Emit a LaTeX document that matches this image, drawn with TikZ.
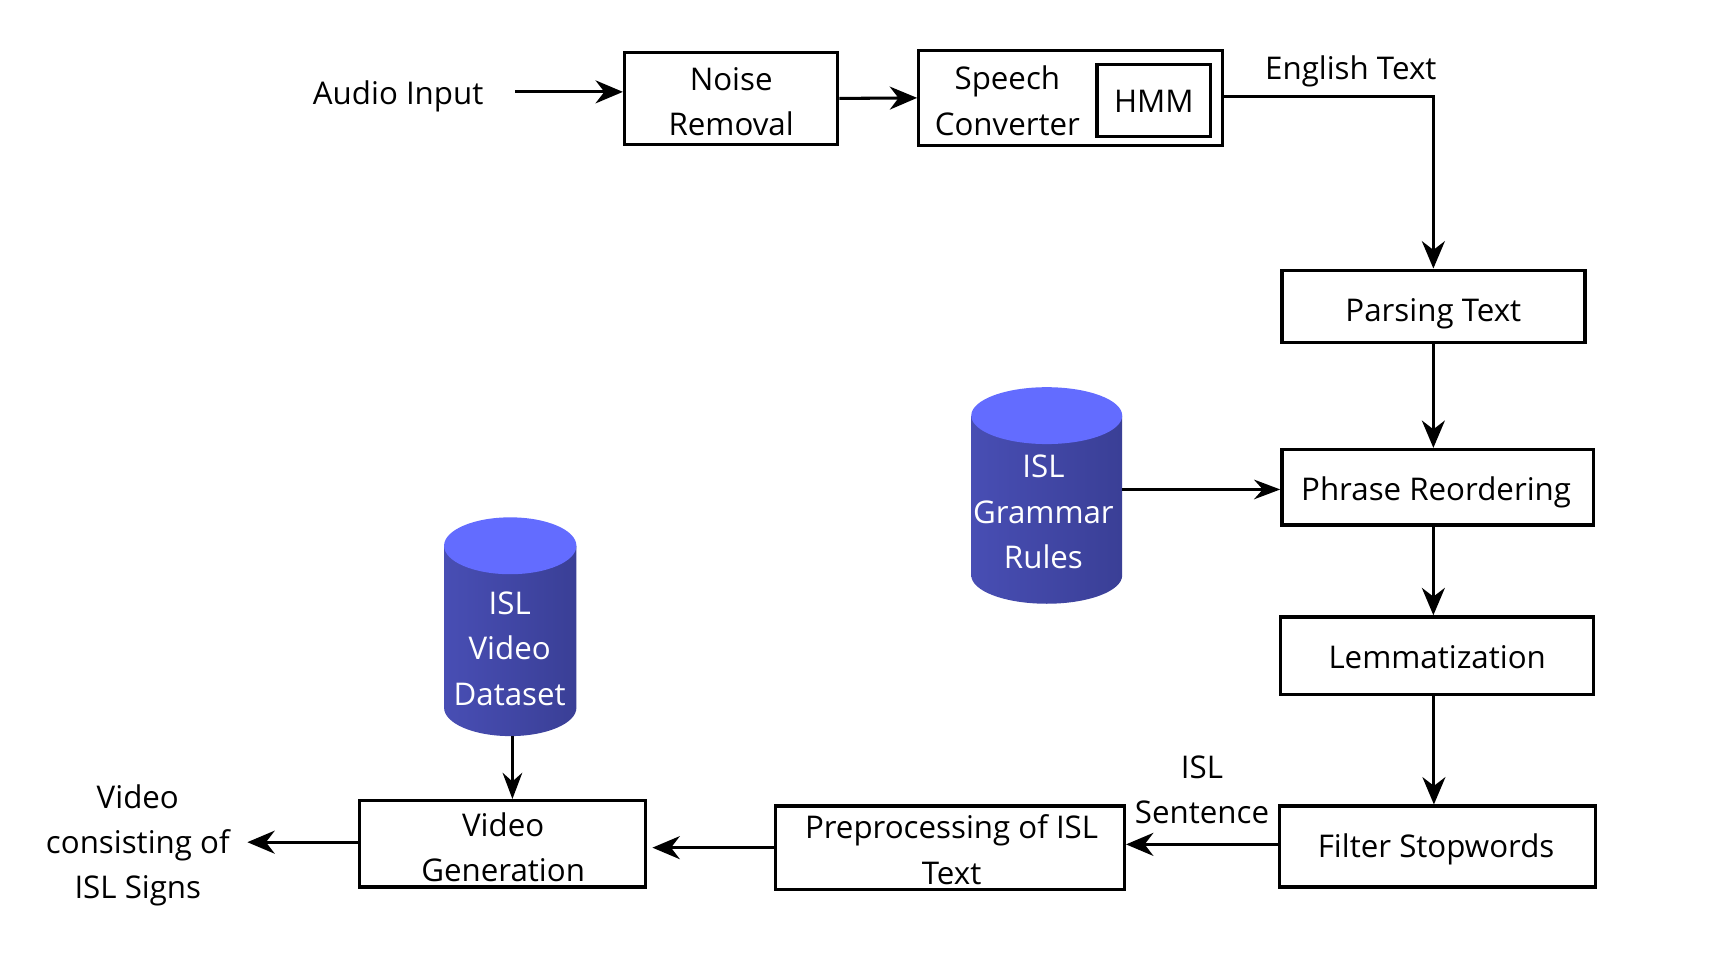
\documentclass[tikz,border=0pt]{standalone}
\usepackage{fontspec}
\setmainfont{Open Sans}
\usetikzlibrary{arrows.meta,calc}
\definecolor{cyltop}{RGB}{99,108,255}
\definecolor{cylleft}{RGB}{72,78,180}
\definecolor{cylright}{RGB}{58,63,150}
\tikzset{
  txt/.style={font=\fontsize{28.6}{41.5}\selectfont, align=center, inner sep=0pt},
  wtxt/.style={txt, text=white},
  procbox/.style={draw, line width=3pt},
  arr/.style={line width=2.8pt, -{Stealth[length=25pt,width=21pt,inset=8pt]}},
  thinarr/.style={line width=2.2pt, -{Stealth[length=24pt,width=18pt,inset=8pt]}},
}
\newcommand{\mycyl}[6]{% xl, xr, ytop, ybot, ry, name
  \shade[left color=cylleft, right color=cylright]
    (#1,#3) -- (#1,#4-#5) arc[start angle=180, end angle=0, x radius={(#2-#1)/2}, y radius=#5] -- (#2,#3) -- cycle;
  \fill[cyltop] ({(#1+#2)/2},#3) ellipse[x radius={(#2-#1)/2}, y radius=#5];
  \node[minimum width={(#2-#1)*1pt}, minimum height={(#4-#3+#5)*1pt}, inner sep=0pt] (#6) at ({(#1+#2)/2},{(#3-#5+#4)/2}) {};
}
\begin{document}
\begin{tikzpicture}[x=1pt,y=-1pt]
\useasboundingbox (0,0) rectangle (1568,874);
\fill[white] (0,0) rectangle (1568,874);

% top row
\node[txt] (audio) at (364,88) {Audio Input};
\coordinate (ain) at (471,84);
\node[procbox, minimum width=195pt, minimum height=84pt] (noise) at (668.5,90) {};
\node[txt] (noiset) at (668.5,93) {Noise\\Removal};
\node[procbox, minimum width=278pt, minimum height=87pt] (speech) at (979,89.5) {};
\node[txt] (speecht) at (921,92) {Speech\\Converter};
\node[procbox, minimum width=104pt, minimum height=66pt] (hmm) at (1055,92) {};
\node[txt] (hmmt) at (1055,93) {HMM};
\node[txt] (engl) at (1235,65) {English Text};

% right column
\node[procbox, minimum width=277pt, minimum height=66pt] (parsing) at (1310.5,280) {};
\node[txt] (parsingt) at (1310.5,287) {Parsing Text};
\node[procbox, minimum width=285pt, minimum height=69pt] (phrase) at (1314.5,445.5) {};
\node[txt] (phraset) at (1313,450) {Phrase Reordering};
\node[procbox, minimum width=286pt, minimum height=71pt] (lemma) at (1314,599.5) {};
\node[txt] (lemmat) at (1314,601) {Lemmatization};
\node[procbox, minimum width=289pt, minimum height=74pt] (filter) at (1314.5,774) {};
\node[txt] (filtert) at (1313,777) {Filter Stopwords};

% bottom row
\node[procbox, minimum width=319pt, minimum height=76pt] (prep) at (868.5,775) {};
\node[txt] (prept) at (870,777) {Preprocessing of ISL\\Text};
\node[procbox, minimum width=261pt, minimum height=79pt] (vgen) at (459.5,771.5) {};
\node[txt] (vgent) at (460,774.5) {Video\\Generation};
\node[txt] (islsent) at (1099,722) {ISL\\Sentence};
\node[txt] (output) at (126,773) {Video\\consisting of\\ISL Signs};

% cylinders
\mycyl{888}{1026}{380}{552}{26}{grammar}
\node[wtxt] (grammart) at (954,468) {ISL\\Grammar\\Rules};
\mycyl{406}{527}{499}{673}{26}{dataset}
\node[wtxt] (datasett) at (466,593) {ISL\\Video\\Dataset};

% connectors
\draw[arr] (ain) -- (ain -| noise.west);
\draw[arr] (noise.east) -- (speech.west);
\draw[arr] ([yshift=1.5pt]speech.east) -| (parsing.north);
\draw[arr] (parsing.south) -- (parsing.south |- phrase.north);
\draw[arr] ([xshift=-4pt]phrase.south) -- ([xshift=-4pt]phrase.south |- lemma.north);
\draw[arr] ([xshift=-3pt]lemma.south) -- ([xshift=-3pt]lemma.south |- filter.north);
\draw[arr] ([yshift=2pt]filter.west) -- ([yshift=2pt]filter.west -| prep.east);
\draw[arr, shorten >=5pt] (prep.west) -- (prep.west -| vgen.east);
\draw[arr, shorten >=16pt] ([yshift=1.5pt]vgen.west) -- ([yshift=1.5pt]vgen.west -| output.east);
\draw[thinarr] ([yshift=-2pt]phrase.west -| grammar.east) -- ([yshift=-2pt]phrase.west);
\draw[thinarr] ([xshift=2pt]dataset.south) -- ([xshift=2pt]dataset.south |- vgen.north);
\end{tikzpicture}
\end{document}
